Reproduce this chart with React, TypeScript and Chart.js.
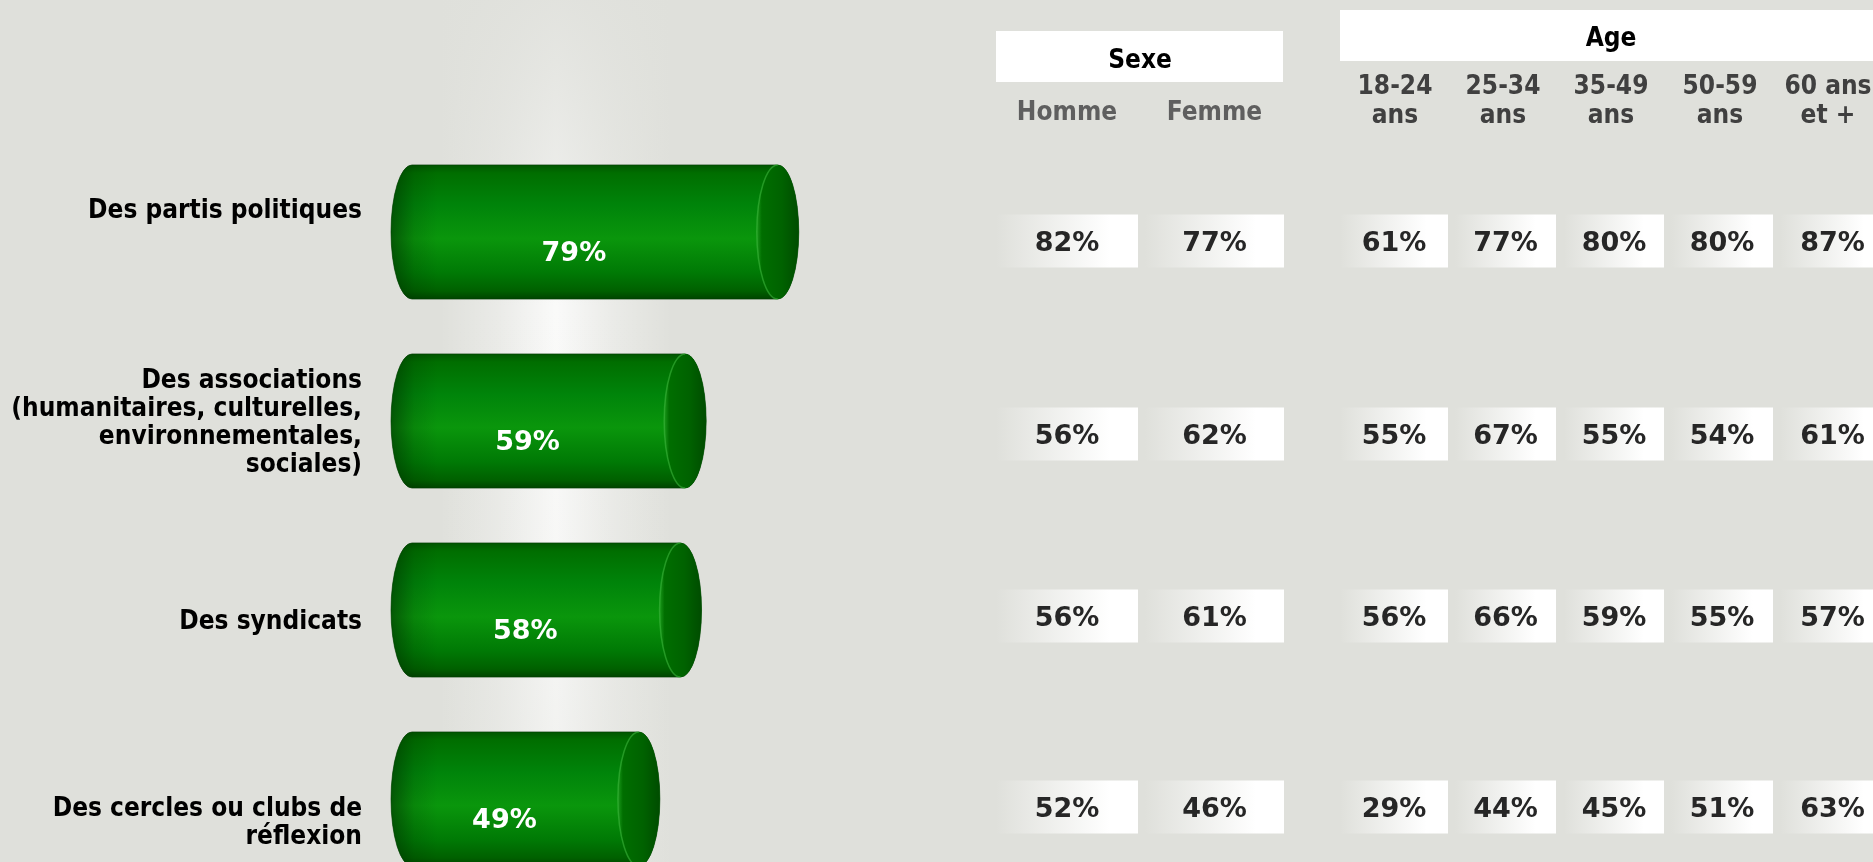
import React, { useEffect, useRef } from "react";
import { Chart, registerables } from "chart.js";

Chart.register(...registerables);

// ---------- data ----------
const categories: string[][] = [
  ["Des partis politiques"],
  ["Des associations", "(humanitaires, culturelles,", "environnementales,", "sociales)"],
  ["Des syndicats"],
  ["Des cercles ou clubs de", "réflexion"],
];
const totalValues = [79, 59, 58, 49];

const sexeTitle = "Sexe";
const sexeLabels = [["Homme"], ["Femme"]];
const hommeValues = [82, 56, 56, 52];
const femmeValues = [77, 62, 61, 46];

const ageTitle = "Age";
const ageLabels = [["18-24", "ans"], ["25-34", "ans"], ["35-49", "ans"], ["50-59", "ans"], ["60 ans", "et +"]];
const age1824Values = [61, 55, 56, 29];
const age2534Values = [77, 67, 66, 44];
const age3549Values = [80, 55, 59, 45];
const age5059Values = [80, 54, 55, 51];
const age60Values = [87, 61, 57, 63];

// ---------- layout / style ----------
const W = 1873;
const H = 900;
const BG = "#dfe0db";
const LABEL_FONT = "bold 26px 'DejaVu Sans Condensed', 'DejaVu Sans', sans-serif";
const PCT_FONT = "bold 27px 'DejaVu Sans', sans-serif";
const TY = 3; // text baseline correction
const labelOffsets = [-24, -1, 9, 21];
const rowOffsets = [9, 13, 6, 8];
const sexeCols = [
  [996, 1138],
  [1145, 1284],
];
const ageCols = [
  [1340, 1448],
  [1455, 1556],
  [1564, 1664],
  [1671, 1773],
  [1780, 1885],
];

function drawCylinder(ctx: CanvasRenderingContext2D, x0: number, x1: number, yc: number, h: number) {
  const ry = h / 2;
  const rx = 21;
  const top = yc - ry;
  const bot = yc + ry;
  ctx.save();
  ctx.beginPath();
  ctx.moveTo(x1, top);
  ctx.lineTo(x0, top);
  ctx.ellipse(x0, yc, rx, ry, 0, -Math.PI / 2, Math.PI / 2, true);
  ctx.lineTo(x1, bot);
  ctx.ellipse(x1, yc, rx, ry, 0, Math.PI / 2, -Math.PI / 2, true);
  ctx.closePath();
  const g = ctx.createLinearGradient(0, top, 0, bot);
  g.addColorStop(0, "#005500");
  g.addColorStop(0.06, "#006e00");
  g.addColorStop(0.3, "#00840a");
  g.addColorStop(0.55, "#0a960c");
  g.addColorStop(0.8, "#007a05");
  g.addColorStop(0.94, "#006000");
  g.addColorStop(1, "#004400");
  ctx.fillStyle = g;
  ctx.fill();
  ctx.save();
  ctx.clip();
  const lg = ctx.createLinearGradient(x0 - rx, 0, x0 + rx * 1.2, 0);
  lg.addColorStop(0, "rgba(0,40,0,0.55)");
  lg.addColorStop(0.5, "rgba(0,40,0,0.15)");
  lg.addColorStop(1, "rgba(0,40,0,0)");
  ctx.fillStyle = lg;
  ctx.fillRect(x0 - rx - 2, top - 2, rx * 3, h + 4);
  ctx.restore();
  ctx.strokeStyle = "rgba(0,60,0,0.6)";
  ctx.lineWidth = 1;
  ctx.stroke();
  ctx.beginPath();
  ctx.ellipse(x1, yc, rx, ry, 0, 0, Math.PI * 2);
  const cg = ctx.createLinearGradient(x1 - rx, 0, x1 + rx, 0);
  cg.addColorStop(0, "#1a9a1a");
  cg.addColorStop(0.12, "#006e00");
  cg.addColorStop(0.6, "#006200");
  cg.addColorStop(1, "#004c00");
  ctx.fillStyle = cg;
  ctx.fill();
  ctx.beginPath();
  ctx.ellipse(x1, yc, rx, ry, 0, Math.PI / 2, (3 * Math.PI) / 2, false);
  ctx.strokeStyle = "rgba(60,180,60,0.6)";
  ctx.lineWidth = 1.5;
  ctx.stroke();
  ctx.restore();
}

function drawCell(ctx: CanvasRenderingContext2D, x0: number, x1: number, yc: number, text: string) {
  const h = 53;
  const g = ctx.createLinearGradient(x0, 0, x1, 0);
  g.addColorStop(0, BG);
  g.addColorStop(0.8, "#ffffff");
  g.addColorStop(1, "#ffffff");
  ctx.fillStyle = g;
  ctx.fillRect(x0, yc - h / 2, x1 - x0, h);
  ctx.fillStyle = "#262626";
  ctx.font = PCT_FONT;
  ctx.textAlign = "center";
  ctx.textBaseline = "middle";
  ctx.fillText(text, (x0 + x1) / 2, yc + TY);
}

const customPlugin = {
  id: "custom",
  beforeDraw(chart: any) {
    const ctx: CanvasRenderingContext2D = chart.ctx;
    ctx.save();
    ctx.fillStyle = BG;
    ctx.fillRect(0, 0, W, H);
    const bx0 = 440;
    const bx1 = 672;
    const hg = ctx.createLinearGradient(bx0, 0, bx1, 0);
    hg.addColorStop(0, "rgba(255,255,255,0)");
    hg.addColorStop(0.25, "rgba(255,255,255,0.35)");
    hg.addColorStop(0.5, "rgba(255,255,255,0.85)");
    hg.addColorStop(0.75, "rgba(255,255,255,0.35)");
    hg.addColorStop(1, "rgba(255,255,255,0)");
    ctx.fillStyle = hg;
    ctx.fillRect(bx0, 0, bx1 - bx0, H);
    const vg = ctx.createLinearGradient(0, 0, 0, H);
    vg.addColorStop(0, "rgba(223,224,219,0.9)");
    vg.addColorStop(0.18, "rgba(223,224,219,0.55)");
    vg.addColorStop(0.34, "rgba(223,224,219,0)");
    vg.addColorStop(0.6, "rgba(223,224,219,0.1)");
    vg.addColorStop(1, "rgba(223,224,219,0.45)");
    ctx.fillStyle = vg;
    ctx.fillRect(bx0, 0, bx1 - bx0, H);
    ctx.restore();
  },
  afterDatasetsDraw(chart: any) {
    const ctx: CanvasRenderingContext2D = chart.ctx;
    const meta = chart.getDatasetMeta(0);
    ctx.save();
    meta.data.forEach((el: any, i: number) => {
      const x0 = el.base;
      const x1 = el.x;
      const yc = el.y;
      const h = el.height;
      drawCylinder(ctx, x0, x1, yc, h);
      ctx.fillStyle = "#ffffff";
      ctx.font = PCT_FONT;
      ctx.textAlign = "center";
      ctx.textBaseline = "middle";
      ctx.fillText(totalValues[i] + "%", (x0 + x1) / 2 - 21, yc + 19 + TY);
      ctx.fillStyle = "#000000";
      ctx.font = LABEL_FONT;
      ctx.textAlign = "right";
      const lines = categories[i];
      const lh = 28;
      const cy = yc + labelOffsets[i] + TY;
      lines.forEach((ln, k) => {
        ctx.fillText(ln, 362, cy + (k - (lines.length - 1) / 2) * lh);
      });
      const ry = yc + rowOffsets[i];
      const sexeVals = [hommeValues, femmeValues];
      sexeCols.forEach((c, j) => drawCell(ctx, c[0], c[1], ry, sexeVals[j][i] + "%"));
      const ageVals = [age1824Values, age2534Values, age3549Values, age5059Values, age60Values];
      ageCols.forEach((c, j) => drawCell(ctx, c[0], c[1], ry, ageVals[j][i] + "%"));
    });
    ctx.fillStyle = "#ffffff";
    ctx.fillRect(996, 31, 1283 - 996, 51);
    ctx.fillRect(1340, 10, W - 1340, 51);
    ctx.fillStyle = "#000000";
    ctx.font = LABEL_FONT;
    ctx.textAlign = "center";
    ctx.textBaseline = "middle";
    ctx.fillText(sexeTitle, 1140, 58 + TY);
    ctx.fillText(ageTitle, 1611, 36 + TY);
    ctx.fillStyle = "#5f5f5f";
    sexeLabels.forEach((l, j) => {
      ctx.fillText(l[0], (sexeCols[j][0] + sexeCols[j][1]) / 2, 110 + TY);
    });
    ctx.fillStyle = "#404040";
    const ageCenters = [1395, 1503, 1611, 1720, 1828];
    ageLabels.forEach((l, j) => {
      ctx.fillText(l[0], ageCenters[j], 84 + TY);
      ctx.fillText(l[1], ageCenters[j], 113 + TY);
    });
    ctx.restore();
  },
};

export default function App() {
  const ref = useRef<HTMLCanvasElement | null>(null);
  useEffect(() => {
    if (!ref.current) return;
    const chart = new Chart(ref.current, {
      type: "bar",
      data: {
        labels: categories.map((c) => c.join(" ")),
        datasets: [
          {
            data: totalValues,
            backgroundColor: "rgba(0,0,0,0)",
            borderWidth: 0,
            barPercentage: 0.71,
            categoryPercentage: 1,
          },
        ],
      },
      options: {
        indexAxis: "y",
        responsive: false,
        animation: false,
        devicePixelRatio: 1,
        layout: { padding: { left: 412, right: W - 875, top: 137.5, bottom: 6.5 } },
        scales: {
          x: { display: false, min: 0, max: 100 },
          y: { display: false },
        },
        plugins: { legend: { display: false }, tooltip: { enabled: false } },
      },
      plugins: [customPlugin],
    } as any);
    return () => chart.destroy();
  }, []);
  return (
    <div style={{ position: "absolute", left: 0, top: 0, width: W, height: 862, overflow: "hidden", background: BG }}>
      <canvas ref={ref} width={W} height={H} style={{ display: "block", width: W, height: H }} />
    </div>
  );
}
